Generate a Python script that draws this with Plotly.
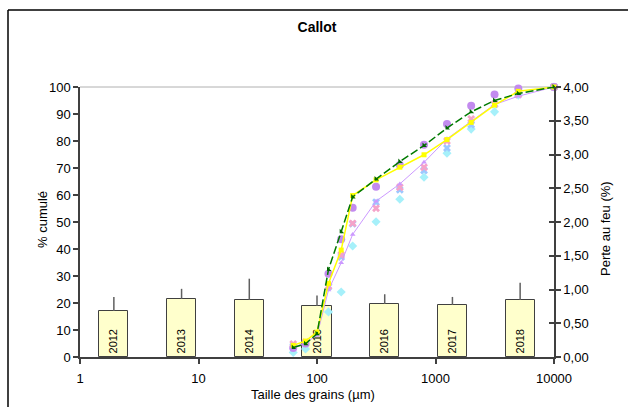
import plotly.graph_objects as go

# Sieve sizes (µm) and cumulative passing (%) for each sample series
sizes = [63, 80, 100, 125, 160, 200, 315, 500, 800, 1250, 2000, 3150, 5000, 10000]
green_dash = [3.5, 4.9, 8.6, 32.4, 46.4, 59.3, 65.9, 72.4, 78.3, 84.8, 90.8, 95.0, 97.6, 100]
yellow_line = [4.3, 5.9, 9.2, 27.2, 39.6, 59.8, 65.6, 70.3, 74.9, 80.5, 86.9, 93.3, 98.4, 100]
lavender_line = [3.5, 5.3, 8.0, 24.8, 34.9, 45.4, 57.7, 64.1, 72.1, 80.8, 87.3, 93.5, 96.6, 100]
purple_dots = [3.3, 5.0, None, 30.8, 43.6, 55.3, 63.1, 71.1, 78.6, 86.3, 93.1, 97.2, 99.4, 100]
pink_cross = [4.8, 5.5, None, 26.3, 37.8, 49.5, 55.1, 62.9, 70.3, 80.0, 88.2, 93.7, 97.2, 100]
blue_cross = [4.0, 5.0, None, 26.0, 37.0, 49.3, 57.3, 61.9, 69.1, 77.4, 86.0, 93.5, 97.2, 100]
cyan_diamond = [1.7, 3.0, None, 16.7, 24.1, 41.1, 50.1, 58.4, 66.6, 75.5, 84.4, 90.8, 97.0, 100]

# Loss on ignition (%) per year, with upper deviation
years = ["2012", "2013", "2014", "2016", "2016", "2017", "2018"]
loi_mean = [0.68, 0.86, 0.845, 0.755, 0.785, 0.77, 0.845]
loi_err = [0.21, 0.15, 0.315, 0.155, 0.145, 0.12, 0.255]

# Tick labels
x_ticks = [1, 10, 100, 1000, 10000]
x_ticktext = ["1", "10", "100", "1000", "10000"]
left_ticks = [0, 10, 20, 30, 40, 50, 60, 70, 80, 90, 100]
right_ticks = [0, 0.5, 1, 1.5, 2, 2.5, 3, 3.5, 4]
right_ticktext = ["0,00", "0,50", "1,00", "1,50", "2,00", "2,50", "3,00", "3,50", "4,00"]

W, H = 628, 407
ML, MR, MT, MB = 80, 74, 87, 50
PW, PH = W - ML - MR, H - MT - MB
FONT = "Liberation Sans, Arial, sans-serif"
AXIS_COL = "#404040"


def px_x(px):
    return (px - ML) / PW


def px_y(py):
    return (H - MB - py) / PH


fig = go.Figure()

# Loss-on-ignition bars (right axis)
fig.add_trace(go.Bar(
    x=list(range(len(years))), y=loi_mean, text=years,
    xaxis="x", yaxis="y", width=0.43,
    marker=dict(color="#FFFFCC", line=dict(color=AXIS_COL, width=1)),
    error_y=dict(type="data", array=loi_err, arrayminus=[0] * len(loi_err),
                 symmetric=False, color="#606060", thickness=1.5, width=0),
    textposition="inside", insidetextanchor="start", textangle=-90,
    constraintext="none",
    insidetextfont=dict(family=FONT, size=11, color="#000000"),
    showlegend=False, hoverinfo="skip",
))

# Invisible helper trace for the inner half of the right-axis ticks
fig.add_trace(go.Scatter(x=[0], y=[0], xaxis="x", yaxis="y3", mode="markers",
                         marker=dict(opacity=0), showlegend=False, hoverinfo="skip"))

# Grain-size curves (log axis, left scale)
common = dict(x=sizes, xaxis="x2", yaxis="y2", showlegend=False, cliponaxis=False)
fig.add_trace(go.Scatter(y=cyan_diamond, mode="markers",
                         marker=dict(symbol="diamond", size=7, color="#A6F0FA"), **common))
fig.add_trace(go.Scatter(y=blue_cross, mode="markers",
                         marker=dict(symbol="x", size=7, color="#9CC8FF"), **common))
fig.add_trace(go.Scatter(y=pink_cross, mode="markers",
                         marker=dict(symbol="x", size=7, color="#F5A3C9"), **common))
fig.add_trace(go.Scatter(y=lavender_line, mode="lines+markers",
                         line=dict(color="#CC99FF", width=1),
                         marker=dict(symbol="triangle-up", size=5, color="#CC99FF"), **common))
fig.add_trace(go.Scatter(y=purple_dots, mode="markers",
                         marker=dict(symbol="circle", size=8, color="#C38BEF"), **common))
fig.add_trace(go.Scatter(y=yellow_line, mode="lines+markers",
                         line=dict(color="#FFFF00", width=1.5),
                         marker=dict(symbol="square", size=5, color="#FFFF00"), **common))
fig.add_trace(go.Scatter(y=green_dash, mode="lines+markers",
                         line=dict(color="#007A00", width=1.5, dash="8px,3px"),
                         marker=dict(symbol="triangle-sw", size=5, color="#006600"), **common))

tickfont = dict(family=FONT, size=13, color="#000000")

fig.update_layout(
    width=W, height=H,
    margin=dict(l=ML, r=MR, t=MT, b=MB, pad=0),
    paper_bgcolor="#FFFFFF", plot_bgcolor="#FFFFFF",
    font=dict(family=FONT, size=13, color="#000000"),
    title=dict(text="<b>Callot</b>", x=0.5, xref="paper", xanchor="center",
               y=1 - 27 / H, yref="container", yanchor="middle",
               font=dict(family=FONT, size=14, color="#000000")),
    bargap=0,
    xaxis=dict(range=[-0.5, 6.5], visible=False, anchor="y", fixedrange=True),
    yaxis=dict(range=[0, 4], side="right", anchor="x",
               tickvals=right_ticks, ticktext=right_ticktext,
               ticks="outside", ticklen=5, tickwidth=1.5, tickcolor=AXIS_COL,
               showline=True, linecolor=AXIS_COL, linewidth=1.5,
               showgrid=False, zeroline=False, tickfont=tickfont),
    yaxis3=dict(range=[0, 4], side="right", overlaying="y", anchor="x",
                tickvals=right_ticks, ticks="inside", ticklen=5, tickwidth=1.5,
                tickcolor=AXIS_COL, showticklabels=False, showline=False,
                showgrid=False, zeroline=False),
    xaxis2=dict(type="log", range=[0, 4], overlaying="x", anchor="y2", side="bottom",
                tickvals=x_ticks, ticktext=x_ticktext,
                ticks="outside", ticklen=5, tickwidth=1.5, tickcolor=AXIS_COL,
                ticklabelstandoff=4,
                showline=True, linecolor=AXIS_COL, linewidth=1.5,
                showgrid=False, zeroline=False, tickfont=tickfont),
    yaxis2=dict(range=[0, 100], overlaying="y", anchor="x2", side="left",
                tickvals=left_ticks, ticks="outside", ticklen=5, tickwidth=1.5,
                tickcolor=AXIS_COL, showline=True, linecolor=AXIS_COL, linewidth=1.5,
                showgrid=False, zeroline=False, tickfont=tickfont),
    shapes=[
        # chart frame: left and top edges (the rest runs off the page)
        dict(type="line", xref="paper", yref="paper",
             x0=px_x(8), x1=px_x(8), y0=px_y(420), y1=px_y(10),
             line=dict(color="#000000", width=1.5), layer="below"),
        dict(type="line", xref="paper", yref="paper",
             x0=px_x(8), x1=px_x(640), y0=px_y(10), y1=px_y(10),
             line=dict(color="#000000", width=1.5), layer="below"),
        # top gridline at 100 %
        dict(type="line", xref="paper", yref="paper", x0=0, x1=1, y0=1, y1=1,
             line=dict(color="#B0B0B0", width=1), layer="below"),
    ],
    annotations=[
        dict(text="% cumulé", xref="paper", yref="paper", x=px_x(42), y=px_y(220),
             textangle=-90, showarrow=False, xanchor="center", yanchor="middle",
             font=dict(family=FONT, size=13)),
        dict(text="Perte au feu (%)", xref="paper", yref="paper", x=px_x(605), y=px_y(229),
             textangle=-90, showarrow=False, xanchor="center", yanchor="middle",
             font=dict(family=FONT, size=13)),
        dict(text="Taille des grains (µm)", xref="paper", yref="paper", x=px_x(313),
             y=px_y(394), showarrow=False, xanchor="center", yanchor="middle",
             font=dict(family=FONT, size=13)),
    ],
)

fig.write_html("out.html")
